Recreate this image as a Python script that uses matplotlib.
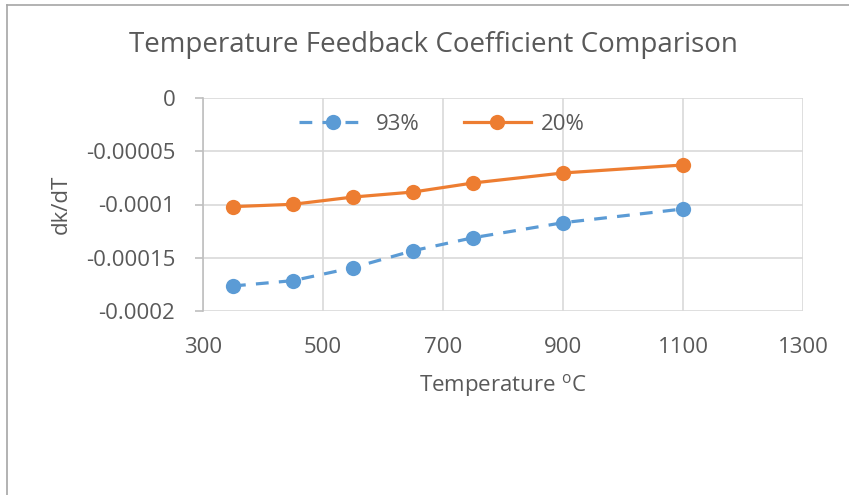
import matplotlib
matplotlib.use("Agg")
import matplotlib.pyplot as plt
from matplotlib.lines import Line2D

plt.rcParams['font.family'] = ['Open Sans', 'DejaVu Sans']
plt.rcParams['mathtext.default'] = 'regular'

temperature = [350, 450, 550, 650, 750, 900, 1100]
series_93 = [-0.0001765, -0.0001715, -0.0001593, -0.0001434, -0.0001312, -0.0001171, -0.0001042]
series_20 = [-0.000102, -0.0000998, -0.000093, -0.0000883, -0.0000798, -0.0000704, -0.0000629]
series_names = ['93%', '20%']
x_ticks = [300, 500, 700, 900, 1100, 1300]
y_ticks = [0, -0.00005, -0.0001, -0.00015, -0.0002]
y_tick_labels = ['0', '-0.00005', '-0.0001', '-0.00015', '-0.0002']
title = 'Temperature Feedback Coefficient Comparison'
x_label = 'Temperature $^{o}$C'
y_label = 'dk/dT'

text_color = '#595959'
grid_color = '#D9D9D9'
blue = '#5B9BD5'
orange = '#ED7D31'
fs = 16

fig = plt.figure(figsize=(8.49, 4.95), dpi=100)
ax = fig.add_axes([203/849, 1-311/495, 600/849, 213/495])

ax.plot(temperature, series_93, color=blue, lw=2.3, dashes=(4, 3.2), marker='o',
        markersize=11, markeredgewidth=0, label=series_names[0],
        dash_capstyle='butt')
ax.plot(temperature, series_20, color=orange, lw=2.3, marker='o',
        markersize=11, markeredgewidth=0, label=series_names[1])

ax.set_xlim(300, 1300)
ax.set_ylim(-0.0002, 0)
ax.set_xticks(x_ticks)
ax.set_xticklabels([str(t) for t in x_ticks])
ax.set_yticks(y_ticks)
ax.set_yticklabels(y_tick_labels)

ax.grid(True, color=grid_color, lw=1.2)
ax.set_axisbelow(True)
for s in ['top', 'right', 'bottom']:
    ax.spines[s].set_visible(False)
ax.spines['left'].set_color('#BFBFBF')
ax.spines['left'].set_linewidth(1.2)
ax.tick_params(axis='y', length=6, width=1.2, color='#BFBFBF', pad=14,
               labelsize=fs, labelcolor=text_color)
ax.tick_params(axis='x', length=0, pad=19, labelsize=fs, labelcolor=text_color)

ax.set_xlabel(x_label, fontsize=fs, color=text_color)
ax.xaxis.set_label_coords(0.5, (311-385)/213)
ax.xaxis.label.set_va('center')
ax.set_ylabel(y_label, fontsize=fs, color=text_color)
ax.yaxis.set_label_coords((61-203)/600, 0.5)
ax.yaxis.label.set_va('center')

fig.text(433/849, 1-45/495, title, ha='center', va='center', fontsize=20, color=text_color)

leg = ax.legend(loc='center', bbox_to_anchor=(442/849, 1-124/495),
                bbox_transform=fig.transFigure, ncol=2, frameon=False,
                fontsize=fs, handlelength=3.0, handletextpad=0.45, columnspacing=2.0)
for t in leg.get_texts():
    t.set_color(text_color)

frame_color = '#A6A6A6'
fig.add_artist(Line2D([7/849, 1], [1-5/495, 1-5/495], color=frame_color, lw=1.2,
                      transform=fig.transFigure))
fig.add_artist(Line2D([7/849, 7/849], [0, 1-5/495], color=frame_color, lw=1.2,
                      transform=fig.transFigure))

fig.savefig('out.png', dpi=100)
